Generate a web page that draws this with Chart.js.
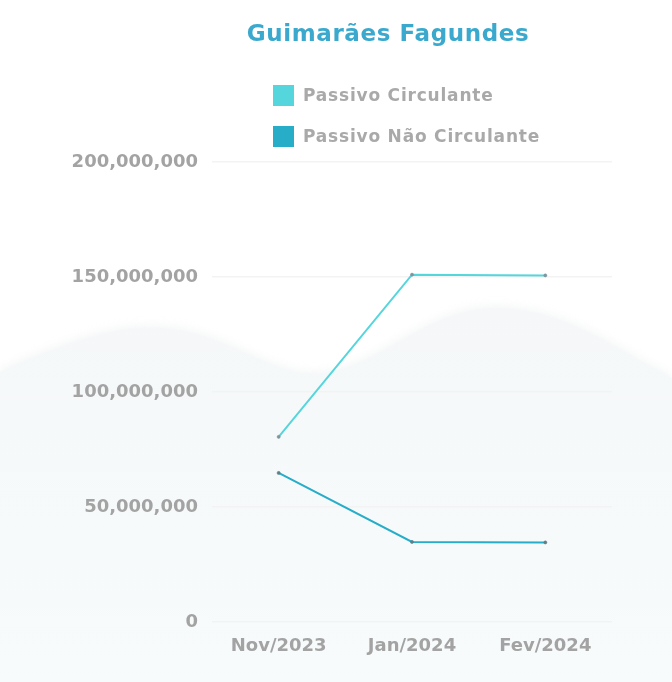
<!DOCTYPE html>
<html>
<head>
<meta charset="utf-8">
<script src="https://cdn.jsdelivr.net/npm/chart.js@4.4.1/dist/chart.umd.min.js"></script>
<style>
  html, body { margin: 0; padding: 0; background: #ffffff; }
  #wrap { position: relative; width: 672px; height: 682px; }
  canvas { position: absolute; left: 0; top: 0; }
  #title { position: absolute; left: 0; width: 776px; top: 20px; text-align: center;
    font-family: "DejaVu Sans", sans-serif; font-weight: bold; font-size: 23px; color: #3aa9cd; letter-spacing: 0.6px; }
  #legend { position: absolute; left: 273px; top: 84px; font-family: "DejaVu Sans", sans-serif;
    font-weight: bold; font-size: 17px; color: #a9a9a9; letter-spacing: 0.8px; }
  .item { display: flex; align-items: center; height: 22px; margin-bottom: 19px; }
  .box { width: 21px; height: 21px; margin-right: 9px; }
</style>
</head>
<body>
<div id="wrap">
  <canvas id="c" width="672" height="682"></canvas>
  <div id="title">Guimarães Fagundes</div>
  <div id="legend"></div>
</div>
<script>
const categories = ["Nov/2023", "Jan/2024", "Fev/2024"];
const seriesNames = ["Passivo Circulante", "Passivo Não Circulante"];
const passivoCirculante = [80500000, 151000000, 150700000];
const passivoNaoCirculante = [64800000, 34800000, 34600000];
const yTicks = [0, 50000000, 100000000, 150000000, 200000000];
const seriesColors = ["#55d6dc", "#27adc8"];

const legendEl = document.getElementById('legend');
seriesNames.forEach((n, i) => {
  const d = document.createElement('div'); d.className = 'item';
  const b = document.createElement('div'); b.className = 'box'; b.style.background = seriesColors[i];
  const t = document.createElement('span'); t.textContent = n;
  d.appendChild(b); d.appendChild(t); legendEl.appendChild(d);
});

const wavePlugin = {
  id: 'wave',
  beforeDraw(chart) {
    const ctx = chart.ctx;
    ctx.save();
    ctx.beginPath();
    ctx.moveTo(0, 372);
    ctx.bezierCurveTo(60, 345, 110, 326, 160, 328);
    ctx.bezierCurveTo(230, 332, 270, 378, 320, 374);
    ctx.bezierCurveTo(380, 368, 430, 305, 500, 308);
    ctx.bezierCurveTo(570, 311, 620, 352, 672, 378);
    ctx.lineTo(672, 682);
    ctx.lineTo(0, 682);
    ctx.closePath();
    const g = ctx.createLinearGradient(0, 300, 0, 682);
    g.addColorStop(0, '#f5f7f8');
    g.addColorStop(0.3, '#f6f9fa');
    g.addColorStop(1, '#f8fbfc');
    ctx.shadowColor = 'rgba(190,200,205,0.18)';
    ctx.shadowBlur = 10;
    ctx.shadowOffsetY = -2;
    ctx.fillStyle = g;
    ctx.fill();
    ctx.restore();
  }
};

new Chart(document.getElementById('c'), {
  type: 'line',
  data: {
    labels: categories,
    datasets: [
      { label: seriesNames[0], data: passivoCirculante, borderColor: seriesColors[0], backgroundColor: seriesColors[0],
        borderWidth: 2, pointRadius: 1.6, pointBackgroundColor: '#7f959c', pointBorderColor: '#7f959c', pointBorderWidth: 0.5, tension: 0 },
      { label: seriesNames[1], data: passivoNaoCirculante, borderColor: seriesColors[1], backgroundColor: seriesColors[1],
        borderWidth: 2, pointRadius: 1.6, pointBackgroundColor: '#5f7f88', pointBorderColor: '#5f7f88', pointBorderWidth: 0.5, tension: 0 }
    ]
  },
  options: {
    responsive: false,
    animation: false,
    layout: { padding: { top: 162, right: 60, bottom: 0, left: 0 } },
    plugins: { legend: { display: false }, title: { display: false }, tooltip: { enabled: false } },
    scales: {
      x: {
        offset: true,
        grid: { display: false, drawTicks: false },
        border: { display: false },
        ticks: { color: '#a3a3a3', padding: 14, font: { family: 'DejaVu Sans', weight: 'bold', size: 18 } },
        afterFit(s) { s.height = 60; }
      },
      y: {
        min: 0, max: 200000000,
        afterBuildTicks(s) { s.ticks = yTicks.map(v => ({ value: v })); },
        grid: { color: '#f3f3f3', drawTicks: false, lineWidth: 1.5 },
        border: { display: false },
        ticks: { color: '#a3a3a3', padding: 14,
          font: { family: 'DejaVu Sans', weight: 'bold', size: 18 },
          callback: v => v.toLocaleString('en-US') },
        afterFit(s) { s.width = 212; }
      }
    }
  },
  plugins: [wavePlugin]
});
</script>
</body>
</html>
